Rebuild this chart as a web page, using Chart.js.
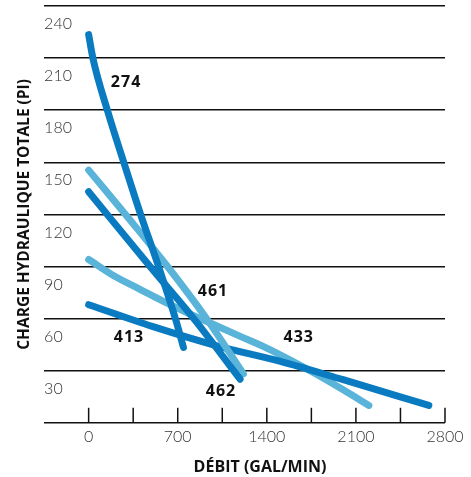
<!DOCTYPE html>
<html>
<head>
<meta charset="utf-8">
<script src="https://cdn.jsdelivr.net/npm/chart.js@4.4.0/dist/chart.umd.min.js"></script>
<style>
  html, body { margin: 0; padding: 0; background: #fff; }
</style>
</head>
<body>
<canvas id="myChart" width="471" height="477"></canvas>
<script>
// debit (gal/min) and charge (pi)
var flow274 = [0, 34, 149, 279, 410, 552, 685, 745];
var head274 = [233.5, 219.8, 189.5, 159.3, 129.6, 99.4, 69.2, 53.4];

var flow461 = [0, 293, 620, 934, 1216];
var head461 = [155.5, 129.6, 100, 69.2, 38.2];

var flow462 = [0, 489, 837, 1190];
var head462 = [143, 99.4, 69, 35.1];

var flow433 = [0, 201, 400, 600, 800, 1000, 1200, 1400, 1600, 1800, 2000, 2202];
var head433 = [104, 94.5, 87, 79.5, 72.5, 66, 59.5, 53, 45.5, 37.5, 29, 20];

var flow413 = [0, 500, 1000, 1500, 2000, 2673];
var head413 = [78, 65.5, 54.5, 45.5, 34.8, 20];

var pumpNames = ['274', '461', '413', '433', '462'];
var labelFlow = [294, 977, 317, 1651, 1040];
var labelHead = [206, 85.7, 59, 59, 28];

var xTicks = [0, 700, 1400, 2100, 2800];
var yTicks = [30, 60, 90, 120, 150, 180, 210, 240];

var dark = '#0a7bc1';
var light = '#5ab4d9';

function pts(xs, ys) {
    var out = [];
    for (var i = 0; i < xs.length; i++) out.push({x: xs[i], y: ys[i]});
    return out;
}

function line(name, xs, ys, color) {
    return {
        label: name,
        data: pts(xs, ys),
        borderColor: color,
        borderWidth: 7,
        borderCapStyle: 'round',
        borderJoinStyle: 'round',
        pointRadius: 0,
        fill: false,
        cubicInterpolationMode: 'monotone'
    };
}

var extras = {
    id: 'extras',
    afterDatasetsDraw: function(chart) {
        var ctx = chart.ctx;
        var x = chart.scales.x, y = chart.scales.y;
        ctx.save();
        // small upward tick marks on the x axis
        ctx.strokeStyle = '#111';
        ctx.lineWidth = 1.5;
        x.ticks.forEach(function(t) {
            if (t.value < 0) return;
            var px = x.getPixelForValue(t.value);
            ctx.beginPath();
            ctx.moveTo(px, y.bottom);
            ctx.lineTo(px, y.bottom - 15);
            ctx.stroke();
        });
        // pump model labels
        ctx.fillStyle = '#111';
        ctx.font = 'bold 16px "Open Sans", sans-serif';
        ctx.letterSpacing = '1px';
        ctx.textAlign = 'center';
        ctx.textBaseline = 'middle';
        pumpNames.forEach(function(n, i) {
            ctx.fillText(n, x.getPixelForValue(labelFlow[i]), y.getPixelForValue(labelHead[i]));
        });
        // x axis title
        ctx.letterSpacing = '0px';
        ctx.font = 'bold 16px "Open Sans", sans-serif';
        ctx.fillText('DÉBIT (GAL/MIN)', 260, 467);
        ctx.restore();
    }
};

var ctx = document.getElementById('myChart').getContext('2d');
var myChart = new Chart(ctx, {
    type: 'line',
    data: {
        datasets: [
            line('274', flow274, head274, dark),
            line('462', flow462, head462, dark),
            line('461', flow461, head461, light),
            line('413', flow413, head413, dark),
            line('433', flow433, head433, light)
        ]
    },
    options: {
        responsive: false,
        animation: false,
        devicePixelRatio: 1,
        layout: { padding: { left: 15.5, right: 26, top: 6, bottom: 27 } },
        plugins: { legend: { display: false }, tooltip: { enabled: false } },
        scales: {
            x: {
                type: 'linear',
                min: -350,
                max: 2800,
                grid: { display: false, drawTicks: false },
                border: { display: false },
                ticks: {
                    stepSize: 350,
                    padding: 4,
                    color: '#333',
                    font: { family: 'Lato', size: 16, weight: '300' },
                    autoSkip: false,
                    maxRotation: 0,
                    callback: function(v) { return xTicks.indexOf(v) >= 0 ? String(v) : ''; }
                }
            },
            y: {
                type: 'linear',
                min: 10,
                max: 250,
                grid: { color: '#111', lineWidth: 1.5, drawTicks: false },
                border: { display: false },
                ticks: {
                    stepSize: 30,
                    mirror: true,
                    padding: 0,
                    labelOffset: 18,
                    color: '#333',
                    font: { family: 'Lato', size: 16, weight: '300', lineHeight: 0.7 },
                    callback: function(v) { return yTicks.indexOf(v - 10) >= 0 ? String(v - 10) : ''; }
                },
                title: {
                    display: true,
                    text: 'CHARGE HYDRAULIQUE TOTALE (PI)',
                    color: '#111',
                    font: { family: 'Open Sans', size: 15.5, weight: 'bold', lineHeight: 1.2 },
                    padding: { top: 0, bottom: 10 }
                }
            }
        }
    },
    plugins: [extras]
});
</script>
</body>
</html>
